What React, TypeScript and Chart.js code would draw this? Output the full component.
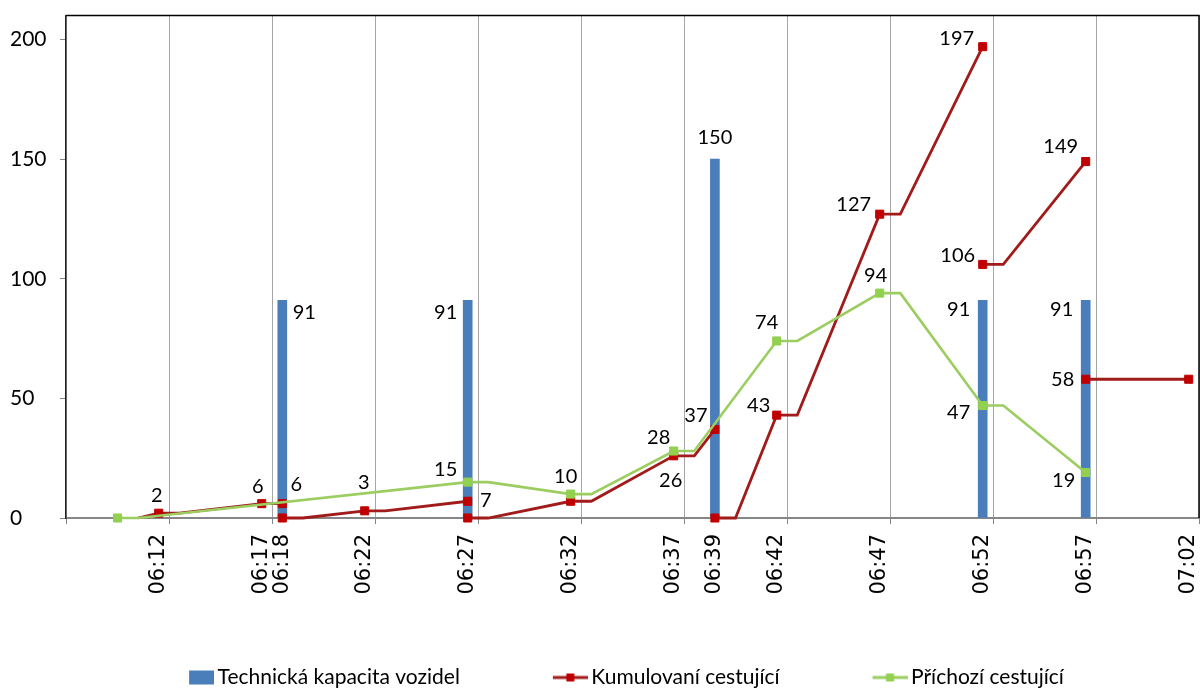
import React, { useEffect, useRef } from 'react';
import { Chart, registerables } from 'chart.js';

Chart.register(...registerables);

// ---- axis data ----
const timeLabels = ['06:12', '06:17', '06:18', '06:22', '06:27', '06:32', '06:37', '06:39', '06:42', '06:47', '06:52', '06:57', '07:02'];
// five-minute slots; a grid line sits on the right edge of each
const gridSlots = ['06:07', '06:12', '06:17', '06:22', '06:27', '06:32', '06:37', '06:42', '06:47', '06:52', '06:57', '07:02'];
const yTicks = [0, 50, 100, 150, 200];
const yMax = 210;

// ---- series ----
const capacityTimes = ['06:18', '06:27', '06:39', '06:52', '06:57'];
const capacityValues = [91, 91, 150, 91, 91];

const cumulativeTimes = ['06:11', '06:12', '06:13', '06:17', '06:18', '06:18', '06:19', '06:22', '06:23', '06:27', '06:27', '06:28', '06:32', '06:33', '06:37', '06:38', '06:39', '06:39', '06:40', '06:42', '06:43', '06:47', '06:48', '06:52', '06:52', '06:53', '06:57', '06:57', '07:02'];
const cumulativeValues = [0, 2, 2, 6, 6, 0, 0, 3, 3, 7, 0, 0, 7, 7, 26, 26, 37, 0, 0, 43, 43, 127, 127, 197, 106, 106, 149, 58, 58];
const cumulativeMarked = [0, 1, 0, 1, 1, 1, 0, 1, 0, 1, 1, 0, 1, 0, 1, 0, 1, 1, 0, 1, 0, 1, 0, 1, 1, 0, 1, 1, 1];

const arrivalTimes = ['06:10', '06:11', '06:27', '06:28', '06:32', '06:33', '06:37', '06:38', '06:42', '06:43', '06:47', '06:48', '06:52', '06:53', '06:57'];
const arrivalValues = [0, 0, 15, 15, 10, 10, 28, 28, 74, 74, 94, 94, 47, 47, 19];
const arrivalMarked = [1, 0, 1, 0, 1, 0, 1, 0, 1, 0, 1, 0, 1, 0, 1];

// ---- value label placement (offset of label centre from the mark) ----
const capacityLabelOffsets: Record<number, [number, number]> = {
  0: [22, 12], 1: [-22, 12], 2: [0, -22], 3: [-24, 9], 4: [-24, 9],
};
const cumulativeLabelOffsets: Record<number, [number, number]> = {
  1: [-2, -18], 3: [-4, -17], 4: [14, -19], 7: [-1, -28], 9: [18, -1],
  14: [-3, 25], 16: [-19, -14], 19: [-18, -10], 21: [-26, -10], 23: [-26, -8],
  24: [-25, -9], 26: [-25, -15], 27: [-23, 0],
};
const arrivalLabelOffsets: Record<number, [number, number]> = {
  2: [-22, -13], 4: [-5, -18], 6: [-15, -13], 8: [-10, -18], 10: [-4, -18], 12: [-24, 7], 14: [-22, 8],
};

const toMin = (t: string) => {
  const [h, m] = t.split(':').map(Number);
  return (h - 6) * 60 + m;
};

const BAR_COLOR = '#4A7EBB';
const RED_LINE = '#A11B1B';
const RED_MARK = '#C00000';
const GREEN_LINE = '#9BCD60';
const GREEN_MARK = '#92D050';

const labelFont = 'Lato';

// legend swatch geometry
const SWATCH_BOX = 66;
const SWATCH_W = SWATCH_BOX + 14;

function makeIcon(kind: 'bar' | 'line', fill: string, stroke = fill) {
  const c = document.createElement('canvas');
  c.width = SWATCH_W;
  c.height = 16;
  const g = c.getContext('2d')!;
  if (kind === 'bar') {
    g.fillStyle = fill;
    g.fillRect(SWATCH_W - 25, 1, 25, 14);
  } else {
    g.strokeStyle = stroke;
    g.lineWidth = 3;
    g.beginPath();
    g.moveTo(SWATCH_W - 35, 8);
    g.lineTo(SWATCH_W, 8);
    g.stroke();
    g.fillStyle = fill;
    g.fillRect(SWATCH_W - 17.5 - 4, 4, 8, 8);
  }
  return c;
}

const valueLabels = {
  id: 'valueLabels',
  afterDatasetsDraw(chart: any) {
    const ctx = chart.ctx;
    const offsetsByDataset = [capacityLabelOffsets, cumulativeLabelOffsets, arrivalLabelOffsets];
    ctx.save();
    ctx.font = `20px ${labelFont}`;
    ctx.fillStyle = '#000';
    ctx.textAlign = 'center';
    ctx.textBaseline = 'middle';
    chart.data.datasets.forEach((ds: any, di: number) => {
      const offsets = offsetsByDataset[di];
      const meta = chart.getDatasetMeta(di);
      meta.data.forEach((el: any, i: number) => {
        const off = offsets[i];
        if (!off) return;
        ctx.fillText(String(ds.data[i].y), el.x + off[0], el.y + off[1]);
      });
    });
    ctx.restore();
  },
};

const plotFrame = {
  id: 'plotFrame',
  afterDraw(chart: any) {
    const { ctx, chartArea } = chart;
    ctx.save();
    ctx.strokeStyle = '#000';
    ctx.lineWidth = 1.5;
    ctx.beginPath();
    ctx.moveTo(chartArea.left, chartArea.top);
    ctx.lineTo(chartArea.right, chartArea.top);
    ctx.lineTo(chartArea.right, chartArea.bottom);
    ctx.stroke();
    ctx.restore();
  },
};

const legendNudge = {
  id: 'legendNudge',
  afterLayout(chart: any) {
    const l = chart.legend;
    if (l) {
      l.top += 10;
      l.bottom += 10;
      l.left -= 2;
      l.right -= 2;
    }
  },
};

export default function App() {
  const ref = useRef<HTMLCanvasElement>(null);

  useEffect(() => {
    const gridValues = new Set(gridSlots.map((t) => toMin(t) + 0.5));
    const labelMap = new Map(timeLabels.map((t) => [toMin(t), t]));
    const xMin = toMin(gridSlots[0]) + 0.5;
    const xMax = toMin(gridSlots[gridSlots.length - 1]) + 0.5;

    const icons = [
      makeIcon('bar', BAR_COLOR),
      makeIcon('line', RED_MARK, RED_LINE),
      makeIcon('line', GREEN_MARK, GREEN_LINE),
    ];

    const chart = new Chart(ref.current!, {
      type: 'line',
      data: {
        datasets: [
          {
            type: 'bar',
            label: 'Technická kapacita vozidel',
            data: capacityTimes.map((t, i) => ({ x: toMin(t), y: capacityValues[i] })),
            backgroundColor: BAR_COLOR,
            barThickness: 9,
            order: 3,
          } as any,
          {
            label: 'Kumulovaní cestující',
            data: cumulativeTimes.map((t, i) => ({ x: toMin(t), y: cumulativeValues[i] })),
            borderColor: RED_LINE,
            borderWidth: 2.8,
            // a boarding drop (same minute) is left undrawn
            segment: {
              borderColor: (c: any) => (c.p0.parsed.x === c.p1.parsed.x ? 'rgba(0,0,0,0)' : RED_LINE),
            },
            pointStyle: 'rect',
            pointRadius: cumulativeMarked.map((m) => (m ? 5.7 : 0)),
            pointBackgroundColor: RED_MARK,
            pointBorderColor: RED_MARK,
            pointBorderWidth: 1,
            tension: 0,
            clip: false,
            order: 2,
          } as any,
          {
            label: 'Příchozí cestující',
            data: arrivalTimes.map((t, i) => ({ x: toMin(t), y: arrivalValues[i] })),
            borderColor: GREEN_LINE,
            borderWidth: 2.6,
            pointStyle: 'rect',
            pointRadius: arrivalMarked.map((m) => (m ? 5.7 : 0)),
            pointBackgroundColor: GREEN_MARK,
            pointBorderColor: GREEN_MARK,
            pointBorderWidth: 1,
            tension: 0,
            clip: false,
            order: 1,
          } as any,
        ],
      },
      options: {
        responsive: false,
        devicePixelRatio: 1,
        animation: false,
        events: [],
        layout: { autoPadding: false, padding: { left: 10, right: 1, top: 12, bottom: 0 } },
        scales: {
          x: {
            type: 'linear',
            min: xMin,
            max: xMax,
            offset: false,
            afterBuildTicks: (scale: any) => {
              const vals = [...gridValues, ...labelMap.keys()].sort((a, b) => a - b);
              scale.ticks = vals.map((v) => ({ value: v }));
            },
            afterFit: (scale: any) => {
              scale.height = 84;
              scale.paddingLeft = 0;
              scale.paddingRight = 0;
            },
            ticks: {
              autoSkip: false,
              minRotation: 90,
              maxRotation: 90,
              padding: 10,
              color: '#000',
              font: { family: 'DejaVu Sans', size: 21 },
              callback: (v: any) => labelMap.get(Number(v)) ?? '',
            },
            grid: {
              offset: false,
              color: (ctx: any) => (gridValues.has(ctx.tick?.value) ? '#A6A6A6' : 'rgba(0,0,0,0)'),
              tickColor: (ctx: any) => (gridValues.has(ctx.tick?.value) ? '#868686' : 'rgba(0,0,0,0)'),
              tickLength: 6,
              lineWidth: 1,
            },
            border: { color: '#868686', width: 2 },
          },
          y: {
            min: 0,
            max: yMax,
            afterBuildTicks: (scale: any) => {
              scale.ticks = yTicks.map((v) => ({ value: v }));
            },
            afterFit: (scale: any) => {
              scale.width = 56;
            },
            ticks: {
              crossAlign: 'far',
              color: '#000',
              font: { family: labelFont, size: 21 },
            },
            grid: { drawOnChartArea: false, tickLength: 6, tickColor: '#868686' },
            border: { color: '#222', width: 1.5 },
          },
        },
        plugins: {
          tooltip: { enabled: false },
          legend: {
            position: 'bottom',
            labels: {
              usePointStyle: true,
              pointStyleWidth: SWATCH_BOX,
              padding: 55,
              color: '#000',
              font: { family: labelFont, size: 21 },
              sort: (a: any, b: any) => a.datasetIndex - b.datasetIndex,
              generateLabels: (c: any) => {
                const items = Chart.defaults.plugins.legend.labels.generateLabels(c);
                items.forEach((it: any) => {
                  it.pointStyle = icons[it.datasetIndex];
                });
                return items;
              },
            },
          },
        },
      } as any,
      plugins: [valueLabels, plotFrame, legendNudge],
    });
    return () => chart.destroy();
  }, []);

  return (
    <div style={{ position: 'fixed', left: 0, top: 0, width: 1200, height: 688, background: '#fff' }}>
      <canvas ref={ref} width={1200} height={688} style={{ display: 'block' }} />
    </div>
  );
}
